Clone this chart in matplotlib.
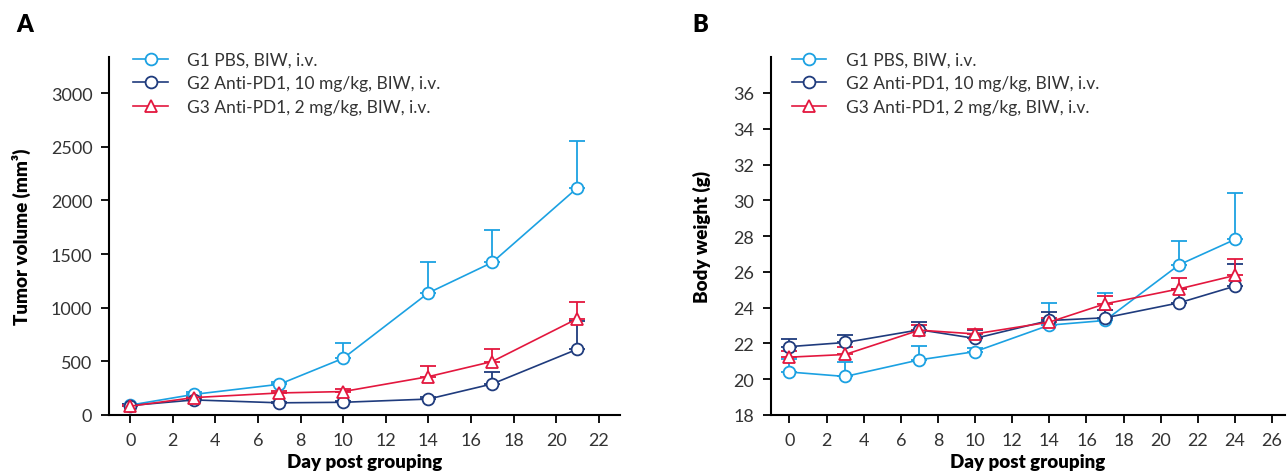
import matplotlib
matplotlib.use("Agg")
import matplotlib.pyplot as plt
import numpy as np

plt.rcParams['font.family'] = ['Lato', 'DejaVu Sans']

# tumor volume data (panel A)
days_a = [0, 3, 7, 10, 14, 17, 21]
g1_vol = [92, 192, 286, 528, 1138, 1422, 2118]
g1_vol_err = [12, 18, 25, 142, 285, 298, 435]
g2_vol = [88, 140, 113, 118, 148, 289, 613]
g2_vol_err = [10, 15, 12, 15, 20, 110, 260]
g3_vol = [82, 162, 205, 218, 357, 498, 898]
g3_vol_err = [10, 15, 20, 25, 100, 118, 155]

# body weight data (panel B)
days_b = [0, 3, 7, 10, 14, 17, 21, 24]
g1_bw = [20.40, 20.15, 21.08, 21.54, 23.02, 23.28, 26.40, 27.81]
g1_bw_err = [0.75, 0.80, 0.80, 0.20, 1.22, 1.55, 1.30, 2.60]
g2_bw = [21.82, 22.05, 22.76, 22.28, 23.28, 23.43, 24.27, 25.20]
g2_bw_err = [0.43, 0.43, 0.43, 0.45, 0.50, 0.42, 0.75, 1.25]
g3_bw = [21.23, 21.38, 22.74, 22.53, 23.19, 24.21, 25.05, 25.80]
g3_bw_err = [0.37, 0.40, 0.30, 0.28, 0.25, 0.42, 0.62, 0.93]

labels = ['G1 PBS, BIW, i.v.',
          'G2 Anti-PD1, 10 mg/kg, BIW, i.v.',
          'G3 Anti-PD1, 2 mg/kg, BIW, i.v.']
colors = ['#1ba1e2', '#1f3b7d', '#e3173e']
markers = ['o', 'o', '^']


def draw(ax, days, series, errs, leg_x):
    for y, e, c, m, lab in zip(series, errs, colors, markers, labels):
        ax.errorbar(days, y, yerr=[np.zeros(len(e)), e], color=c, lw=1.2,
                    marker=m, markersize=8.5, markerfacecolor='white',
                    markeredgewidth=1.3, capsize=6, capthick=1.3,
                    elinewidth=1.3, label=lab)
    for s in ['top', 'right']:
        ax.spines[s].set_visible(False)
    for s in ['left', 'bottom']:
        ax.spines[s].set_linewidth(1.5)
    ax.tick_params(direction='out', length=6, width=1.3, labelsize=13,
                   labelcolor='#333333', pad=6)
    ax.set_xlabel('Day post grouping', fontsize=13.5, fontweight='heavy', labelpad=4)
    handles, labs = ax.get_legend_handles_labels()
    handles = [h[0] for h in handles]
    ax.legend(handles, labs, loc='upper left', bbox_to_anchor=(leg_x, 1.035),
              frameon=False, fontsize=12.5, handlelength=2.0,
              handletextpad=1.1, labelspacing=0.45, borderaxespad=0,
              labelcolor='#333333')


fig = plt.figure(figsize=(12.87, 4.77), dpi=100)

ax1 = fig.add_axes([0.0847, 0.128, 0.397, 0.75])
draw(ax1, days_a, [g1_vol, g2_vol, g3_vol], [g1_vol_err, g2_vol_err, g3_vol_err], 0.034)
ax1.set_xlim(-1, 23)
ax1.set_ylim(0, 3336)
ax1.set_xticks(range(0, 23, 2))
ax1.set_yticks(range(0, 3001, 500))
ax1.set_ylabel('Tumor volume (mm³)', fontsize=13.5, fontweight='heavy', labelpad=14)

ax2 = fig.add_axes([0.599, 0.128, 0.3995, 0.75])
draw(ax2, days_b, [g1_bw, g2_bw, g3_bw], [g1_bw_err, g2_bw_err, g3_bw_err], 0.027)
ax2.set_xlim(-1, 26.7)
ax2.set_ylim(18, 38)
ax2.set_xticks(range(0, 27, 2))
ax2.set_yticks(range(18, 37, 2))
ax2.set_ylabel('Body weight (g)', fontsize=13.5, fontweight='heavy', labelpad=16)

fig.text(16 / 1287, 1 - 25 / 477, 'A', fontsize=17, fontweight='heavy', va='center')
fig.text(692 / 1287, 1 - 25 / 477, 'B', fontsize=17, fontweight='heavy', va='center')

fig.savefig('out.png', dpi=100)
